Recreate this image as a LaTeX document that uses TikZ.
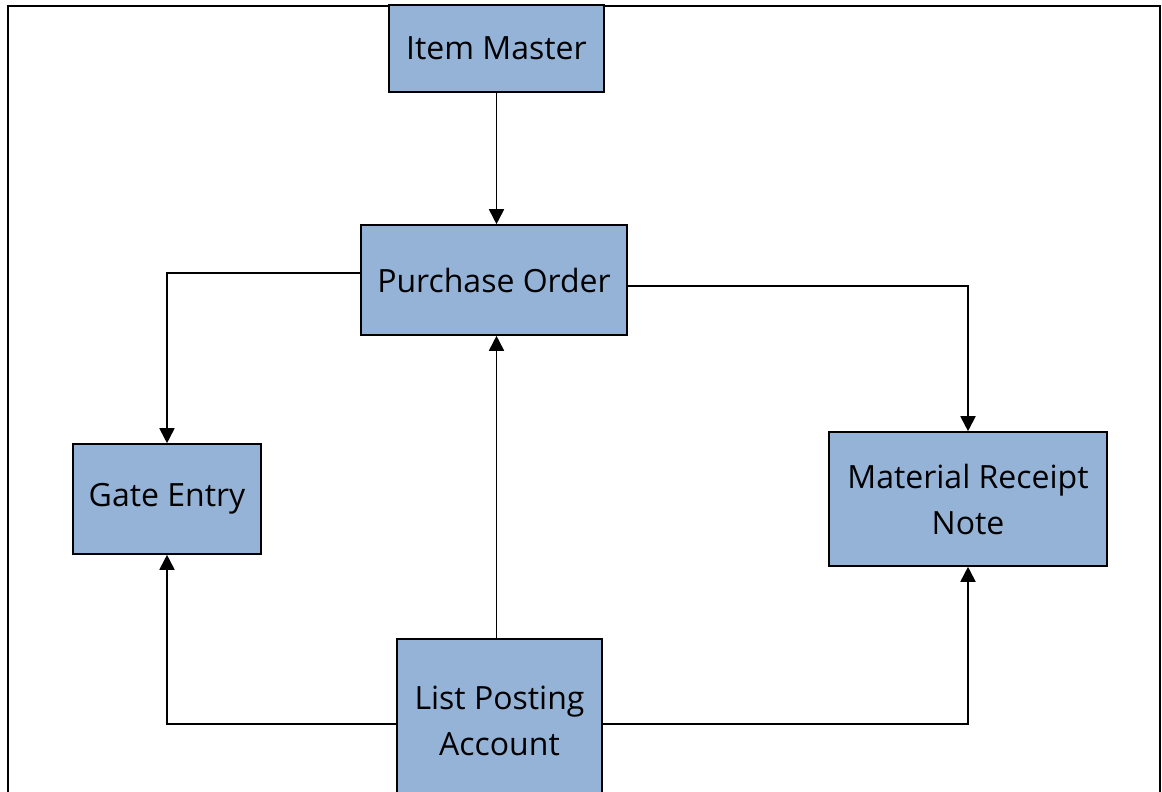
\documentclass[tikz,border=0pt]{standalone}
\usepackage{fontspec}
\setmainfont{Open Sans}
\usetikzlibrary{
    arrows.meta,
    calc
}
\definecolor{boxblue}{HTML}{95B3D7}
\tikzset {
    block/.style = {draw, line width = 1.6pt, fill = boxblue, inner sep = 0pt,
        align = center, font = \fontsize{32}{46}\selectfont},
    flow/.style = {line width = 1.8pt, -{Triangle[length = 15pt, width = 15pt]}},
    frame/.style = {line width = 2pt}
}
\begin{document}
\begin{tikzpicture}[x = 1pt, y = -1pt]
    \useasboundingbox (0, 0) rectangle (1162, 792);
    \draw [frame] (8, 820) -- (8, 6) -- (1160, 6) -- (1160, 820);
    \node (itemmaster) [block, minimum width = 215pt, minimum height = 87pt] at (496.5, 48.5) {Item Master};
    \node (purchaseorder) [block, minimum width = 266pt, minimum height = 110pt] at (494, 280) {Purchase Order};
    \node (gateentry) [block, minimum width = 188pt, minimum height = 110pt] at (167, 499) {Gate Entry};
    \node (mrn) [block, minimum width = 278pt, minimum height = 134pt] at (968, 499) {Material Receipt\\Note};
    \node (listposting) [block, minimum width = 205pt, minimum height = 164pt] at (499.5, 721) {List Posting\\Account};
    \draw [flow] (itemmaster.south) -- (itemmaster.south |- purchaseorder.north);
    \draw [flow] ([yshift = 7pt]purchaseorder.west) -| (gateentry.north);
    \draw [flow] ([yshift = -6pt]purchaseorder.east) -| (mrn.north);
    \draw [flow] (itemmaster.south |- listposting.north) -- (itemmaster.south |- purchaseorder.south);
    \draw [flow] ([yshift = -3pt]listposting.west) -| (gateentry.south);
    \draw [flow] ([yshift = -3pt]listposting.east) -| (mrn.south);
\end{tikzpicture}
\end{document}
